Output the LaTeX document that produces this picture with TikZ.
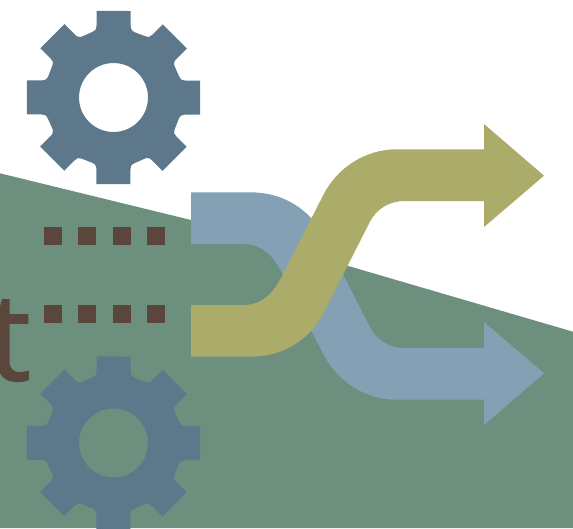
\documentclass[tikz,border=0pt]{standalone}
\usepackage{fontspec}
\setmainfont[FakeBold=1.6]{Open Sans}
\definecolor{hill}{HTML}{6D907E}
\definecolor{gear}{HTML}{5C788A}
\definecolor{olive}{HTML}{ABAB6A}
\definecolor{stream}{HTML}{83A0B5}
\definecolor{brown}{HTML}{5A463A}
\newcommand{\gearshape}[2]{%
  \fill[cog, shift={(#1,#2)}] (17.2,-86.5)
    \foreach \a in {0,45,...,315}{
      -- ([rotate=-\a]17.2,-86.5)
      -- ([rotate=-\a]17.2,-71)
      .. controls ([rotate=-\a]17.2,-67) and ([rotate=-\a]20,-65.5) .. ([rotate=-\a]23.2,-64.5)
      -- ([rotate=-\a]31,-61.5)
      .. controls ([rotate=-\a]35,-60) and ([rotate=-\a]37,-60.5) .. ([rotate=-\a]39,-62.9)
      -- ([rotate=-\a]49.2,-73.2)
    } -- cycle
    (0,0) circle[radius=34.5];}
\begin{document}
\begin{tikzpicture}[x=0.02cm, y=-0.02cm,
  hilly/.style={fill=hill},
  cog/.style={fill=gear, even odd rule},
  dot/.style={fill=brown},
  flowa/.style={fill=stream},
  flowb/.style={fill=olive}]
  \useasboundingbox (0,0) rectangle (573,528);
  \fill[white] (0,0) rectangle (573,528);
  \fill[hilly] (0,173.3) -- (191,220) -- (573,331.7) -- (573,528) -- (0,528) -- cycle;
  % gears
  \gearshape{113.5}{97.5}
  \gearshape{113.5}{443}
  % dots
  \foreach \x in {44,78,113,147}{
    \fill[dot] (\x,227) rectangle ++(18,18);
    \fill[dot] (\x,305) rectangle ++(18,18);
  }
  \node[text=brown, font=\fontsize{69}{69}\selectfont, anchor=base, inner sep=0pt] (tail) at (9,380) {t};
  % arrows
  \fill[flowa] (191,244) -- (243,244)
    .. controls (264,244) and (274,258) .. (281.7,272.3) -- (323.3,354)
    .. controls (337,381) and (365,399.7) .. (396.7,399.7)
    -- (484,399.7) -- (484,425) -- (544,373.3) -- (484,322) -- (484,348) -- (405,348)
    .. controls (390,348) and (377,341) .. (370,327.3) -- (323.3,235.7)
    .. controls (309,208) and (282,192.3) .. (250,192.3) -- (191,192.3) -- cycle;
  \fill[flowb] (191,305) -- (243,305)
    .. controls (264,305) and (274,291) .. (281.7,276.7) -- (323.3,195)
    .. controls (337,168) and (365,149.3) .. (396.7,149.3)
    -- (484,149.3) -- (484,124) -- (544,175.7) -- (484,227) -- (484,201) -- (405,201)
    .. controls (390,201) and (377,208) .. (370,221.7) -- (323.3,313.3)
    .. controls (309,341) and (282,356.7) .. (250,356.7) -- (191,356.7) -- cycle;
\end{tikzpicture}
\end{document}
